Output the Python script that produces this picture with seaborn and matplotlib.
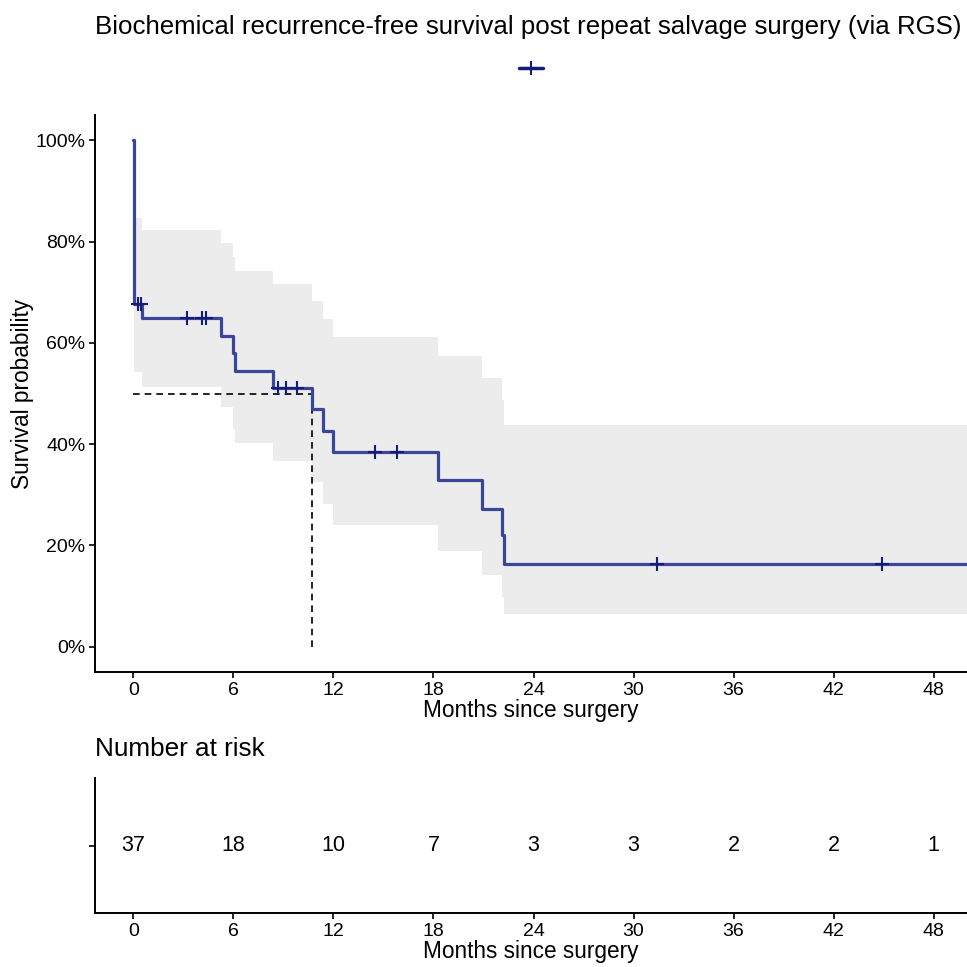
import numpy as np
import pandas as pd
import seaborn as sns
import matplotlib
matplotlib.use("Agg")
import matplotlib.pyplot as plt
from matplotlib.lines import Line2D
from matplotlib.ticker import PercentFormatter

# Kaplan-Meier estimate (months, survival, 95% CI)
times = [0, 0.02, 0.5, 5.26, 6.0, 6.1, 8.4, 10.7, 11.4, 12.0, 18.3, 20.9, 22.1, 22.2, 50]
surv = [1.0, 0.676, 0.649, 0.614, 0.580, 0.545, 0.511, 0.470, 0.426, 0.384, 0.329, 0.273, 0.220, 0.164, 0.164]
upper = [np.nan, 0.847, 0.824, 0.798, 0.770, 0.743, 0.716, 0.682, 0.648, 0.612, 0.574, 0.531, 0.487, 0.437, 0.437]
lower = [np.nan, 0.542, 0.512, 0.473, 0.430, 0.402, 0.367, 0.325, 0.282, 0.241, 0.190, 0.142, 0.099, 0.065, 0.065]
censor_times = [0.3, 0.45, 3.2, 4.1, 4.35, 8.7, 9.15, 9.8, 14.5, 15.8, 31.4, 44.9]
median_time = 10.7

risk_times = [0, 6, 12, 18, 24, 30, 36, 42, 48]
risk_n = [37, 18, 10, 7, 3, 3, 2, 2, 1]

km = pd.DataFrame({"time": times, "surv": surv, "upper": upper, "lower": lower})
idx = np.searchsorted(km["time"].values, censor_times, side="right") - 1
cens = pd.DataFrame({"time": censor_times, "surv": km["surv"].values[idx]})

sns.set_theme(style="ticks")
plt.rcParams["font.family"] = ["Liberation Sans", "DejaVu Sans"]
plt.rcParams["text.color"] = "black"
plt.rcParams["axes.labelcolor"] = "black"

line_col = "#3a4699"
mark_col = "#141c78"

fig = plt.figure(figsize=(9.67, 9.67), dpi=100)
ax = fig.add_axes([0.0983, 0.305, 0.9017, 0.576])
ax2 = fig.add_axes([0.0983, 0.0558, 0.9017, 0.1396])

# ribbon
band = km.dropna()
ax.fill_between(band["time"], band["lower"], band["upper"], step="post",
                color="#ececec", lw=0, zorder=1)
# median lines
ax.plot([0, median_time], [0.5, 0.5], ls=(0, (4, 3)), color="black", lw=1.2, zorder=2)
ax.plot([median_time, median_time], [0, 0.5], ls=(0, (4, 3)), color="black", lw=1.2, zorder=2)
# curve
sns.lineplot(data=km, x="time", y="surv", ax=ax, estimator=None, sort=False,
             drawstyle="steps-post", color=line_col, lw=2.3, zorder=3)
ax.plot(cens["time"], cens["surv"], ls="none", marker="+", ms=10, mew=1.5,
        color=mark_col, zorder=4)

ax.set_xlim(-2.3, 50)
ax.set_ylim(-0.05, 1.05)
ax.set_xticks(risk_times)
ax.set_yticks([0, 0.2, 0.4, 0.6, 0.8, 1.0])
ax.yaxis.set_major_formatter(PercentFormatter(1.0, decimals=0))
ax.set_xlabel("Months since surgery", fontsize=16.3, labelpad=0)
ax.set_ylabel("Survival probability", fontsize=16.3, labelpad=1)
ax.tick_params(labelsize=14, length=4, width=1.2, colors="black", pad=3)
for s in ["top", "right"]:
    ax.spines[s].set_visible(False)
for s in ["left", "bottom"]:
    ax.spines[s].set_linewidth(1.4)
    ax.spines[s].set_color("black")

# risk table
for t, n in zip(risk_times, risk_n):
    ax2.text(t, 0, str(n), ha="center", va="center", fontsize=15.5)
ax2.set_xlim(-2.3, 50)
ax2.set_ylim(-1, 1)
ax2.set_xticks(risk_times)
ax2.set_yticks([0])
ax2.set_yticklabels([""])
ax2.set_xlabel("Months since surgery", fontsize=16.3, labelpad=0)
ax2.tick_params(labelsize=14, length=4, width=1.2, colors="black", pad=3)
for s in ["top", "right"]:
    ax2.spines[s].set_visible(False)
for s in ["left", "bottom"]:
    ax2.spines[s].set_linewidth(1.4)
    ax2.spines[s].set_color("black")
ax2.set_title("Number at risk", loc="left", fontsize=18.8, pad=16)

fig.text(0.546, 0.972, "Biochemical recurrence-free survival post repeat salvage surgery (via RGS)",
         ha="center", va="center", fontsize=18.6)
handle = Line2D([], [], color=mark_col, lw=2.5, marker="+", ms=10, mew=1.5)
fig.legend([handle], [""], loc="center", bbox_to_anchor=(0.549, 0.928), frameon=False,
           handlelength=1.2, handletextpad=0, fontsize=14)

fig.savefig("out.png", dpi=100)
